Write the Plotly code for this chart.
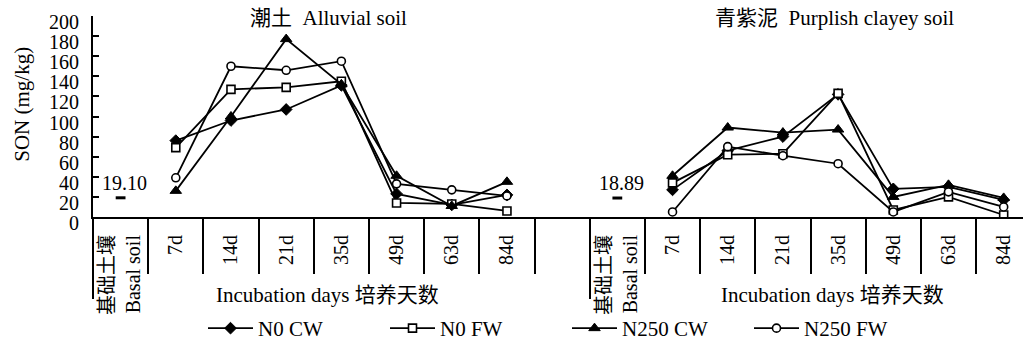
import plotly.graph_objects as go

# ---------------- data ----------------
days = ["7d", "14d", "21d", "35d", "49d", "63d", "84d"]
basal_label = "基础土壤<br>Basal soil"
soil_titles = ["潮土  Alluvial soil", "青紫泥  Purplish clayey soil"]
axis_caption = "Incubation days 培养天数"
basal_values = [19.10, 18.89]
series_names = ["N0 CW", "N0 FW", "N250 CW", "N250 FW"]
y_ticks = [0, 20, 40, 60, 80, 100, 120, 140, 160, 180, 200]

# Alluvial soil (潮土)
alluvial_n0_cw = [76, 96, 107, 131, 23, 12, 22]
alluvial_n0_fw = [69, 127, 129, 135, 14, 13, 6]
alluvial_n250_cw = [26, 100, 177, 132, 41, 11, 35]
alluvial_n250_fw = [39, 150, 146, 155, 33, 27, 21]

# Purplish clayey soil (青紫泥)
purple_n0_cw = [27, 66, 80, 122, 28, 30, 17]
purple_n0_fw = [34, 62, 63, 123, 7, 20, 2]
purple_n250_cw = [41, 89, 84, 87, 20, 32, 19]
purple_n250_fw = [5, 70, 61, 53, 5, 25, 10]

alluvial = [alluvial_n0_cw, alluvial_n0_fw, alluvial_n250_cw, alluvial_n250_fw]
purple = [purple_n0_cw, purple_n0_fw, purple_n250_cw, purple_n250_fw]

# ---------------- category positions ----------------
n_slot = len(days) + 1                 # basal + days per soil
left_basal = 0
right_basal = n_slot + 1               # one empty slot between panels
left_days_x = [left_basal + 1 + i for i in range(len(days))]
right_days_x = [right_basal + 1 + i for i in range(len(days))]
tickvals = [left_basal] + left_days_x + [right_basal] + right_days_x
ticktext = [basal_label] + days + [basal_label] + days
n_total = right_basal + n_slot
boundaries = [i - 0.5 for i in range(n_total + 1)]
long_boundaries = [left_basal - 0.5, right_basal - 0.5]
x_range = [-0.5, 16.35]

FONT = "Liberation Serif, Times New Roman, Noto Sans CJK SC, serif"

styles = [
    dict(symbol="diamond", size=9, color="black", line=dict(color="black", width=1)),
    dict(symbol="square", size=8, color="white", line=dict(color="black", width=1.6)),
    dict(symbol="triangle-up", size=10, color="black", line=dict(color="black", width=1)),
    dict(symbol="circle", size=8, color="white", line=dict(color="black", width=1.6)),
]

fig = go.Figure()

for k, name in enumerate(series_names):
    xs = left_days_x + [None] + right_days_x
    ys = alluvial[k] + [None] + purple[k]
    fig.add_trace(go.Scatter(
        x=xs, y=ys, name=name, mode="lines+markers",
        line=dict(color="black", width=1.8),
        marker=styles[k], connectgaps=False,
    ))

# basal soil values
basal_x = [left_basal, right_basal]
fig.add_trace(go.Scatter(
    x=basal_x, y=basal_values, mode="markers",
    marker=dict(symbol="line-ew", size=7, line=dict(color="black", width=3)),
    showlegend=False, hoverinfo="skip",
))
for bx, bv in zip(basal_x, basal_values):
    fig.add_annotation(x=bx, y=bv, xref="x", yref="y", text=f"{bv:.2f}",
                       showarrow=False, xshift=4, yshift=15,
                       font=dict(family=FONT, size=20))

# dummy traces for overlay tick axes
for ax in ["x2", "x3"]:
    fig.add_trace(go.Scatter(x=[None], y=[None], xaxis=ax, yaxis="y",
                             showlegend=False, hoverinfo="skip"))

fig.update_layout(
    width=1023, height=349,
    margin=dict(l=93, r=0, t=16, b=127),
    paper_bgcolor="white", plot_bgcolor="white",
    font=dict(family=FONT, size=21, color="black"),
    xaxis=dict(
        range=x_range, tickmode="array", tickvals=tickvals, ticktext=ticktext,
        tickangle=-90, ticks="", showgrid=False, zeroline=False,
        showline=True, linecolor="black", linewidth=2,
        tickfont=dict(family=FONT, size=20), ticklabelstandoff=8,
    ),
    xaxis2=dict(
        range=x_range, overlaying="x", anchor="y", side="bottom",
        tickmode="array", tickvals=boundaries, ticks="outside", ticklen=56,
        tickwidth=2, tickcolor="black", showticklabels=False,
        showgrid=False, zeroline=False, showline=False,
    ),
    xaxis3=dict(
        range=x_range, overlaying="x", anchor="y", side="bottom",
        tickmode="array", tickvals=long_boundaries, ticks="outside", ticklen=81,
        tickwidth=2, tickcolor="black", showticklabels=False,
        showgrid=False, zeroline=False, showline=False,
    ),
    yaxis=dict(
        range=[0, 200], tickmode="array", tickvals=y_ticks,
        ticks="inside", ticklen=6, tickwidth=2,
        tickcolor="black", showline=True, linecolor="black", linewidth=2,
        showgrid=False, zeroline=False,
        tickfont=dict(family=FONT, size=20),
        ticklabelshift=6, ticklabelstandoff=8, ticklabeloverflow="allow",
    ),
    legend=dict(
        orientation="h", x=(203 - 93) / 930, xanchor="left",
        y=(222 - 337) / 206, yanchor="middle",
        entrywidth=122, entrywidthmode="pixels", itemwidth=45,
        font=dict(family=FONT, size=21), bgcolor="rgba(0,0,0,0)",
    ),
    showlegend=True,
)

# titles and captions
for title, cx in zip(soil_titles, [328, 834]):
    fig.add_annotation(text=title, xref="paper", yref="paper",
                       x=(cx - 93) / 930, y=(222 - 18) / 206,
                       xanchor="center", yanchor="middle", showarrow=False,
                       font=dict(family=FONT, size=21))
for cx in [327, 832]:
    fig.add_annotation(text=axis_caption, xref="paper", yref="paper",
                       x=(cx - 93) / 930, y=(222 - 302) / 206,
                       xanchor="center", yanchor="middle", showarrow=False,
                       font=dict(family=FONT, size=21))
fig.add_annotation(text="SON (mg/kg)", xref="paper", yref="paper",
                   x=(22 - 93) / 930, y=(222 - 107) / 206, textangle=-90,
                   xanchor="center", yanchor="middle", showarrow=False,
                   font=dict(family=FONT, size=21))

fig.write_html("out.html")
